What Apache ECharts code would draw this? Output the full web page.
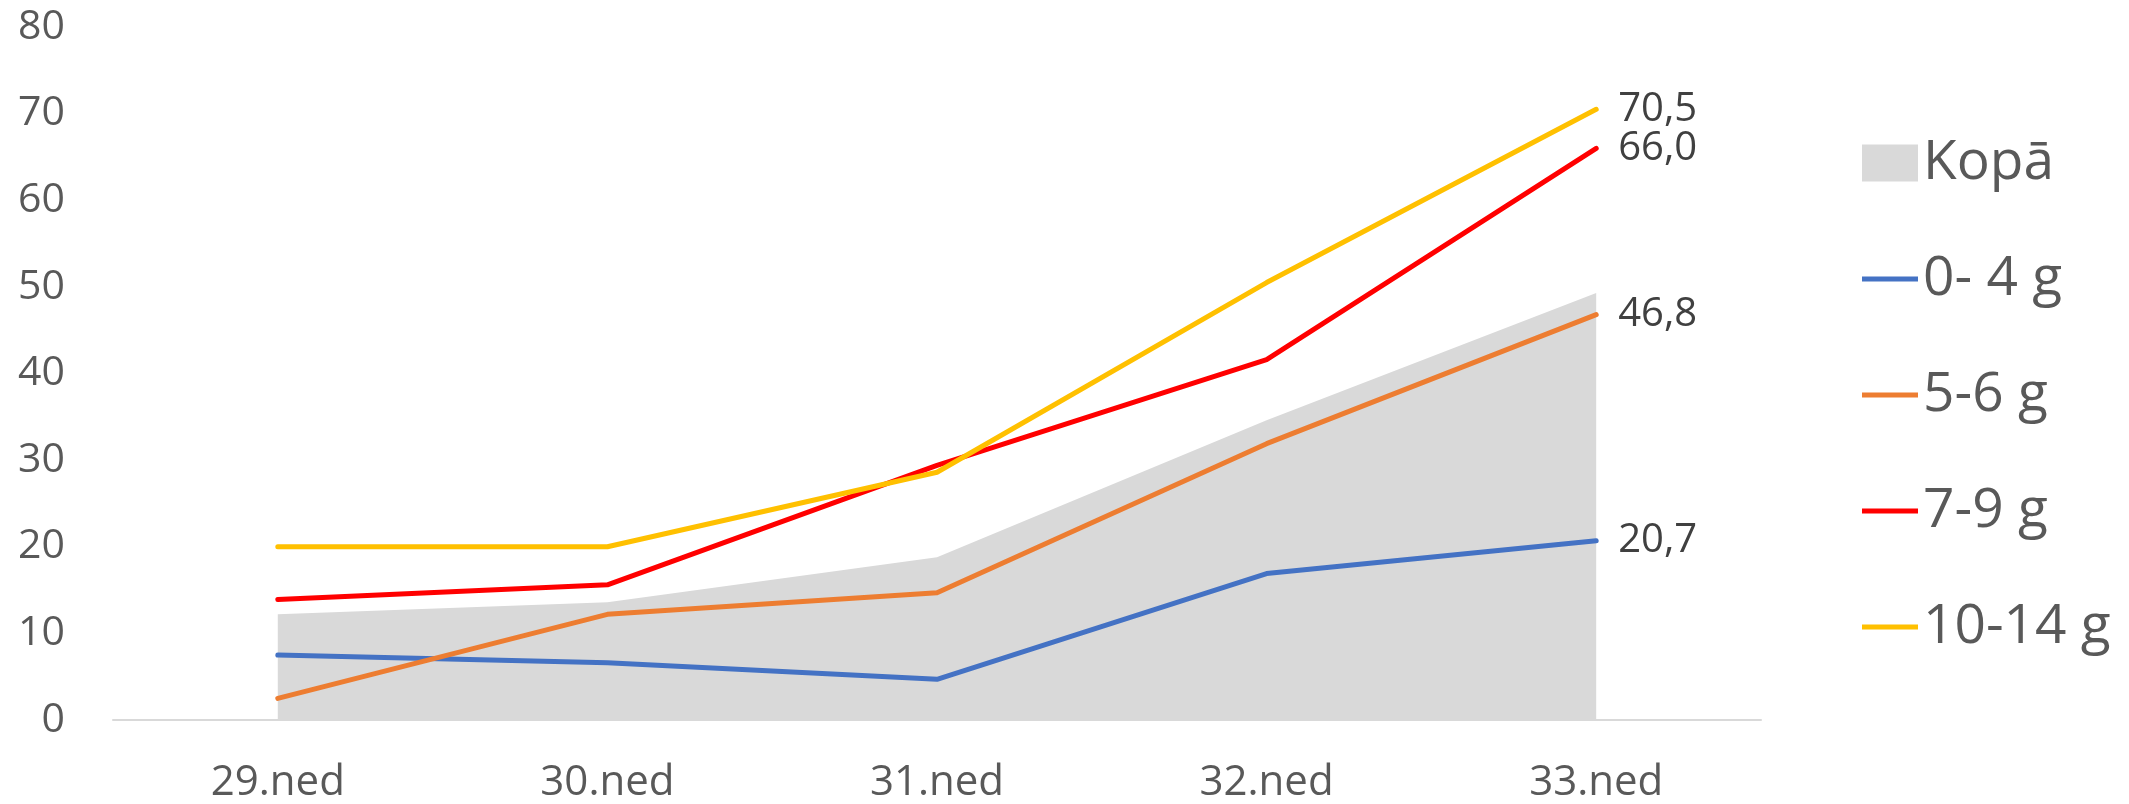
<!DOCTYPE html>
<html>
<head>
<meta charset="utf-8">
<script src="https://cdn.jsdelivr.net/npm/echarts@6/dist/echarts.min.js"></script>
<style>html,body{margin:0;padding:0;background:#fff}#c{width:2129px;height:804px}</style>
</head>
<body>
<div id="c"></div>
<script>
const categories = ['29.ned', '30.ned', '31.ned', '32.ned', '33.ned'];
const kopa = [12.2, 13.6, 18.8, 34.6, 49.3];
const g0_4 = [7.5, 6.6, 4.7, 16.9, 20.7];
const g5_6 = [2.5, 12.2, 14.7, 31.9, 46.8];
const g7_9 = [13.9, 15.6, 29.4, 41.6, 66.0];
const g10_14 = [20.0, 20.0, 28.6, 50.5, 70.5];
const yTicks = { min: 0, max: 80, interval: 10 };
const lineNames = ['0- 4 g', '5-6 g', '7-9 g', '10-14 g'];

const FONT = '"Open Sans", sans-serif';
function lineSeries(name, data, color) {
  return {
    name: name, type: 'line', data: data, symbol: 'none',
    lineStyle: { color: color, width: 5, cap: 'round', join: 'round' },
    itemStyle: { color: color },
    endLabel: { show: true, distance: 22,
      formatter: function (p) { return Number(p.value).toFixed(1).replace('.', ','); },
      fontFamily: FONT, fontSize: 40, color: '#404040' },
    emphasis: { disabled: true }
  };
}
const legendText = { fontFamily: FONT, fontSize: 55, color: '#595959', lineHeight: 56 };
const chart = echarts.init(document.getElementById('c'));
chart.setOption({
  animation: false,
  grid: { left: 113, right: 368, top: 27, bottom: 83, containLabel: false },
  xAxis: {
    type: 'category', data: categories, boundaryGap: true,
    axisLine: { lineStyle: { color: '#d9d9d9', width: 2 } },
    axisTick: { show: false },
    axisLabel: { fontFamily: FONT, fontSize: 42, color: '#595959', margin: 42 }
  },
  yAxis: {
    type: 'value', min: yTicks.min, max: yTicks.max, interval: yTicks.interval,
    axisLine: { show: false }, axisTick: { show: false },
    splitLine: { show: false },
    axisLabel: { fontFamily: FONT, fontSize: 41, color: '#595959', margin: 48 }
  },
  legend: [
    { orient: 'vertical', left: 1857, top: 130, selectedMode: false,
      itemWidth: 56, itemHeight: 37, itemTextGap: 6, textStyle: legendText,
      data: [{ name: 'Kopā', icon: 'rect', itemStyle: { color: '#d9d9d9' } }] },
    { orient: 'vertical', left: 1857, top: 246, selectedMode: false,
      itemWidth: 56, itemHeight: 5, itemGap: 60, itemTextGap: 6, textStyle: legendText,
      icon: 'rect',
      data: lineNames }
  ],
  series: [
    { name: 'Kopā', type: 'line', data: kopa, symbol: 'none',
      lineStyle: { width: 0 }, itemStyle: { color: '#d9d9d9' },
      areaStyle: { color: '#d9d9d9', opacity: 1 }, emphasis: { disabled: true } },
    lineSeries(lineNames[0], g0_4, '#4472C4'),
    lineSeries(lineNames[1], g5_6, '#ED7D31'),
    lineSeries(lineNames[2], g7_9, '#FF0000'),
    lineSeries(lineNames[3], g10_14, '#FFC000')
  ]
});
</script>
</body>
</html>
